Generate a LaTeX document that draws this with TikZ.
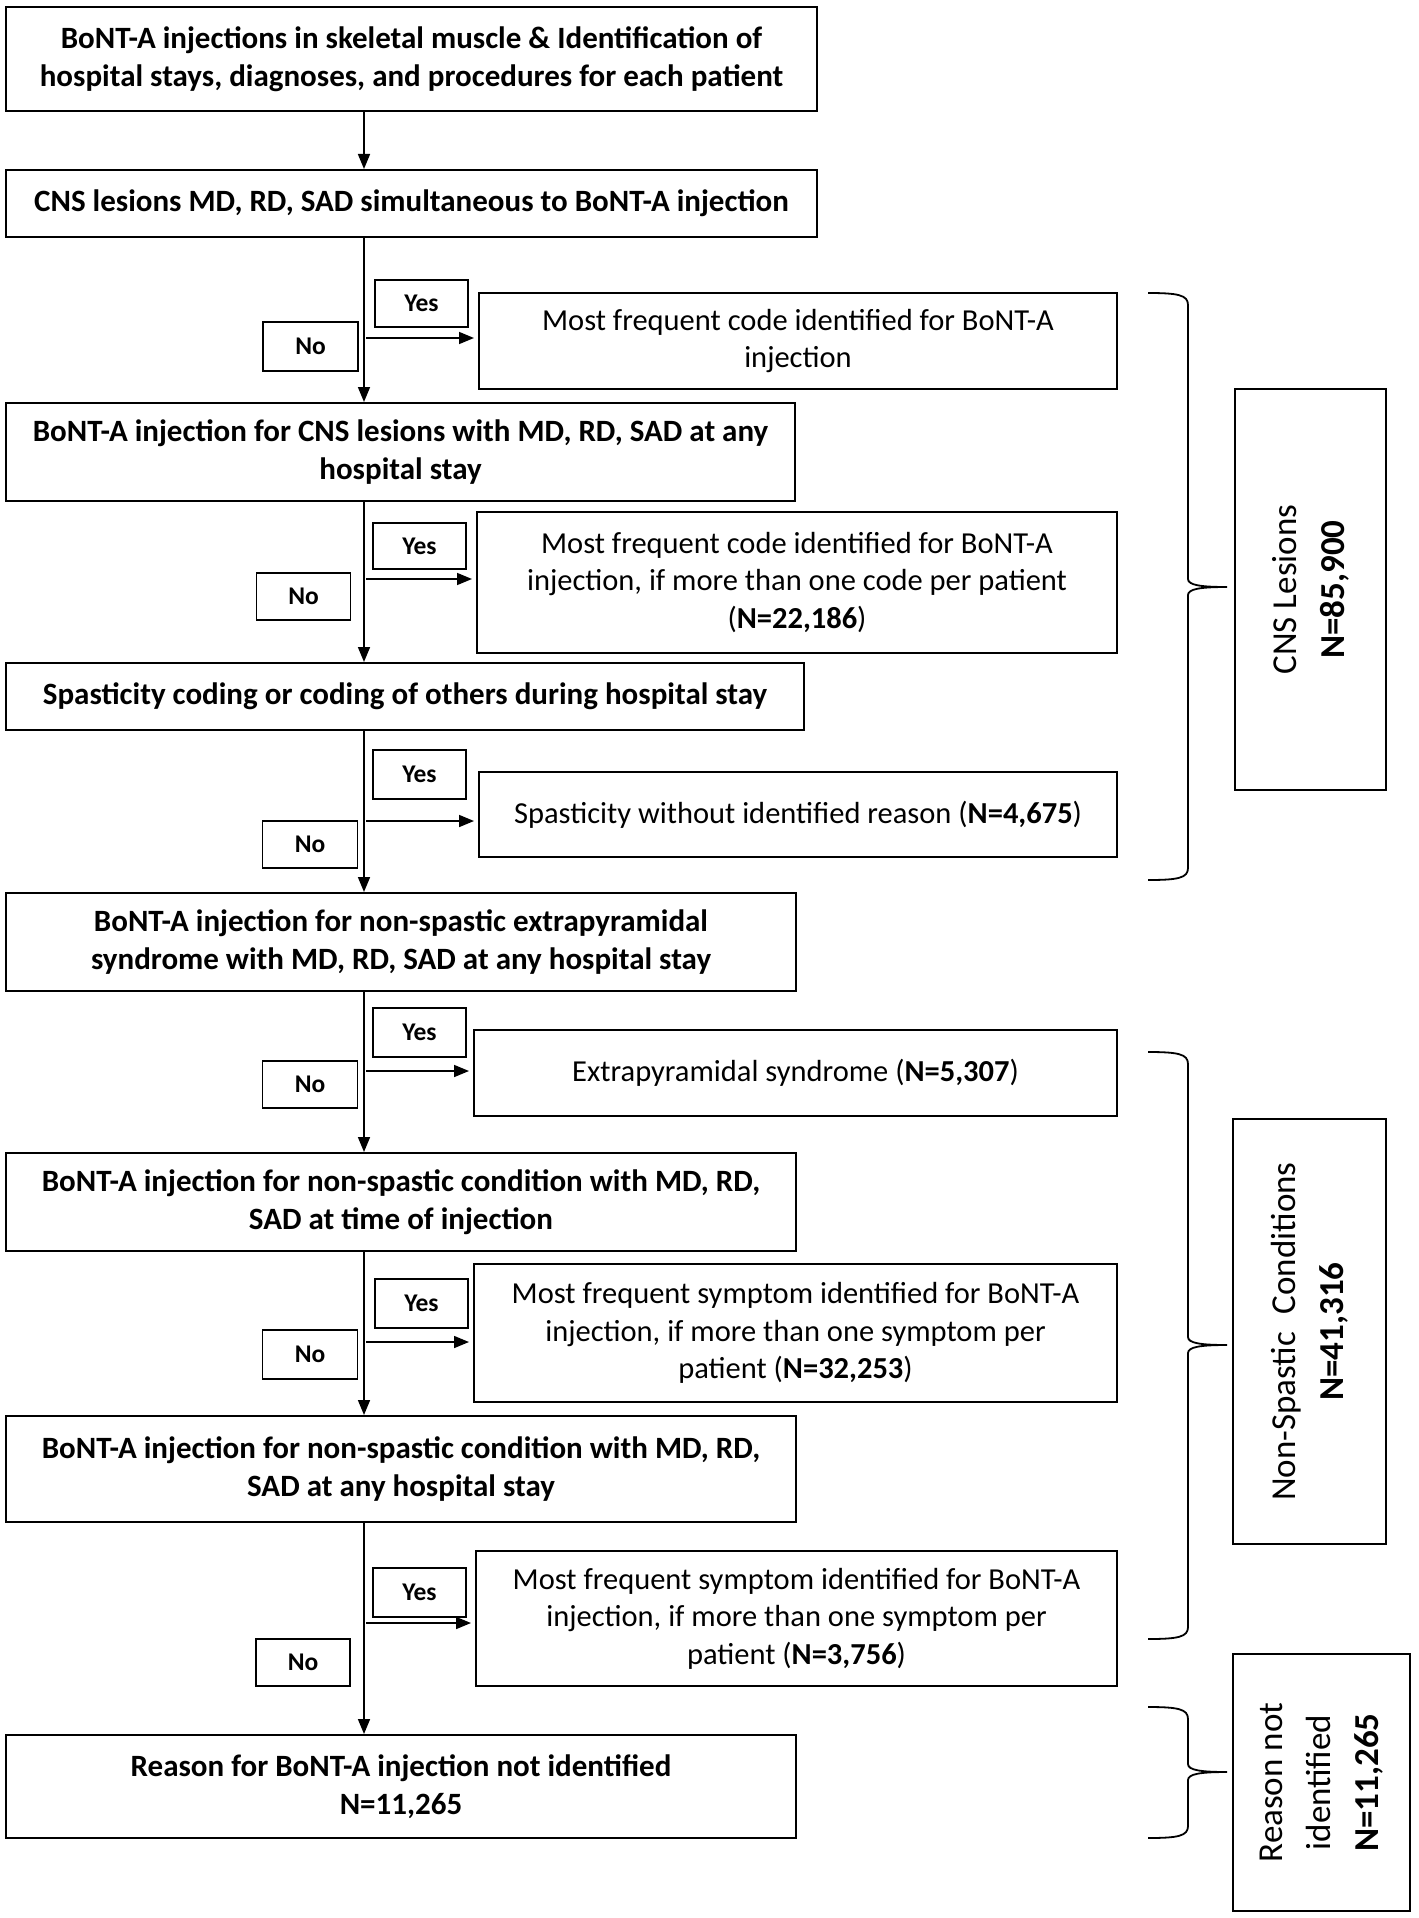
\documentclass[tikz,border=0pt]{standalone}
\usepackage{fontspec}
\setmainfont{Carlito}
\usetikzlibrary{arrows.meta}
\tikzset{
  mainbox/.style={draw, line width=2pt, align=center, inner sep=0pt,
    font=\bfseries\fontsize{31}{38.5}\selectfont},
  resbox/.style={draw, line width=2pt, align=center, inner sep=0pt,
    font=\fontsize{30.5}{37.5}\selectfont},
  ynbox/.style={draw, line width=1.8pt, inner sep=0pt,
    font=\bfseries\fontsize{25.5}{28}\selectfont},
  sidebox/.style={draw, line width=2pt, align=center, inner sep=0pt, rotate=90,
    font=\fontsize{35}{48}\selectfont},
  arr/.style={line width=1.6pt, -{Triangle[width=12pt,length=15pt]}},
  bracepath/.style={line width=1.8pt},
}
\newcommand{\mycurly}[3]{%
  \draw[bracepath] (1148,#1) .. controls (1178,#1) and (1188,{#1+2}) .. (1188,{#1+12})
    -- (1188,{#2-8}) .. controls (1188,{#2-2}) and (1200,#2) .. (1227,#2)
    .. controls (1200,#2) and (1188,{#2+2}) .. (1188,{#2+8})
    -- (1188,{#3-12}) .. controls (1188,{#3-2}) and (1178,#3) .. (1148,#3);}
\begin{document}
\begin{tikzpicture}[x=1pt,y=-1pt]
\useasboundingbox (0,0) rectangle (1418,1918);
\coordinate (spine) at (364,0);
% main boxes
\node[mainbox, minimum width=811pt, minimum height=104pt] (b1) at (411.5,59)
  {BoNT-A injections in skeletal muscle \& Identification of\\hospital stays, diagnoses, and procedures for each patient};
\node[mainbox, minimum width=811pt, minimum height=67pt] (b2) at (411.5,203.5)
  {CNS lesions MD, RD, SAD simultaneous to BoNT-A injection};
\node[mainbox, minimum width=789pt, minimum height=98pt] (b3) at (400.5,452)
  {BoNT-A injection for CNS lesions with MD, RD, SAD at any\\hospital stay};
\node[mainbox, minimum width=798pt, minimum height=67pt] (b4) at (405,696.5)
  {Spasticity coding or coding of others during hospital stay};
\node[mainbox, minimum width=790pt, minimum height=98pt] (b5) at (401,942)
  {BoNT-A injection for non-spastic extrapyramidal\\syndrome with MD, RD, SAD at any hospital stay};
\node[mainbox, minimum width=790pt, minimum height=98pt] (b6) at (401,1202)
  {BoNT-A injection for non-spastic condition with MD, RD,\\SAD at time of injection};
\node[mainbox, minimum width=790pt, minimum height=106pt] (b7) at (401,1469)
  {BoNT-A injection for non-spastic condition with MD, RD,\\SAD at any hospital stay};
\node[mainbox, minimum width=790pt, minimum height=103pt] (b8) at (401,1786.5)
  {Reason for BoNT-A injection not identified\\N=11,265};
% result boxes
\node[resbox, minimum width=638pt, minimum height=96pt] (r1) at (798,341)
  {Most frequent code identified for BoNT-A\\injection};
\node[resbox, minimum width=640pt, minimum height=141pt] (r2) at (797,582.5)
  {Most frequent code identified for BoNT-A\\injection, if more than one code per patient\\(\textbf{N=22,186})};
\node[resbox, minimum width=638pt, minimum height=85pt] (r3) at (798,814.5)
  {Spasticity without identified reason (\textbf{N=4,675})};
\node[resbox, minimum width=643pt, minimum height=86pt] (r4) at (795.5,1073)
  {Extrapyramidal syndrome (\textbf{N=5,307})};
\node[resbox, minimum width=643pt, minimum height=138pt] (r5) at (795.5,1333)
  {Most frequent symptom identified for BoNT-A\\injection, if more than one symptom per\\patient (\textbf{N=32,253})};
\node[resbox, minimum width=641pt, minimum height=135pt] (r6) at (796.5,1618.5)
  {Most frequent symptom identified for BoNT-A\\injection, if more than one symptom per\\patient (\textbf{N=3,756})};
% yes / no labels
\node[ynbox, minimum width=93pt, minimum height=47pt] (y1) at (421.5,303.5) {Yes};
\node[ynbox, minimum width=93pt, minimum height=46pt] (y2) at (419.5,546) {Yes};
\node[ynbox, minimum width=93pt, minimum height=49pt] (y3) at (419.5,774.5) {Yes};
\node[ynbox, minimum width=93pt, minimum height=49pt] (y4) at (419.5,1032.5) {Yes};
\node[ynbox, minimum width=93pt, minimum height=49pt] (y5) at (421.5,1303.5) {Yes};
\node[ynbox, minimum width=93pt, minimum height=49pt] (y6) at (419.5,1592.5) {Yes};
\node[ynbox, minimum width=95pt, minimum height=49pt] (n1) at (310.5,346.5) {No};
\node[ynbox, minimum width=94pt, minimum height=47pt] (n2) at (303.5,596.5) {No};
\node[ynbox, minimum width=95pt, minimum height=47pt] (n3) at (310,844.5) {No};
\node[ynbox, minimum width=95pt, minimum height=47pt] (n4) at (310,1084.5) {No};
\node[ynbox, minimum width=95pt, minimum height=49pt] (n5) at (310,1354.5) {No};
\node[ynbox, minimum width=94pt, minimum height=47pt] (n6) at (303,1662.5) {No};
% side boxes
\node[sidebox, minimum width=401pt, minimum height=151pt] (c1) at (1310.5,589.5)
  {CNS Lesions\\\textbf{N=85,900}};
\node[sidebox, minimum width=425pt, minimum height=153pt] (c2) at (1309.5,1331.5)
  {Non-Spastic\enspace Conditions\\\textbf{N=41,316}};
\node[sidebox, minimum width=257pt, minimum height=177pt] (c3) at (1321.5,1782.5)
  {Reason not\\identified\\\textbf{N=11,265}};
% spine arrows
\draw[arr] (b1.south -| spine) -- (b2.north -| spine);
\draw[arr] (b2.south -| spine) -- (b3.north -| spine);
\draw[arr] (b3.south -| spine) -- (b4.north -| spine);
\draw[arr] (b4.south -| spine) -- (b5.north -| spine);
\draw[arr] (b5.south -| spine) -- (b6.north -| spine);
\draw[arr] (b6.south -| spine) -- (b7.north -| spine);
\draw[arr] (b7.south -| spine) -- (b8.north -| spine);
% yes arrows
\coordinate (s1) at (366,338);
\coordinate (s2) at (366,579);
\coordinate (s3) at (366,821);
\coordinate (s4) at (366,1071);
\coordinate (s5) at (366,1342);
\coordinate (s6) at (366,1623);
\draw[arr, shorten >=4pt] (s1) -- (s1 -| r1.west);
\draw[arr, shorten >=4pt] (s2) -- (s2 -| r2.west);
\draw[arr, shorten >=4pt] (s3) -- (s3 -| r3.west);
\draw[arr, shorten >=4pt] (s4) -- (s4 -| r4.west);
\draw[arr, shorten >=4pt] (s5) -- (s5 -| r5.west);
\draw[arr, shorten >=4pt] (s6) -- (s6 -| r6.west);
% braces
\mycurly{293}{587}{880}
\mycurly{1052}{1345}{1639}
\mycurly{1707}{1772}{1838}
\end{tikzpicture}
\end{document}
